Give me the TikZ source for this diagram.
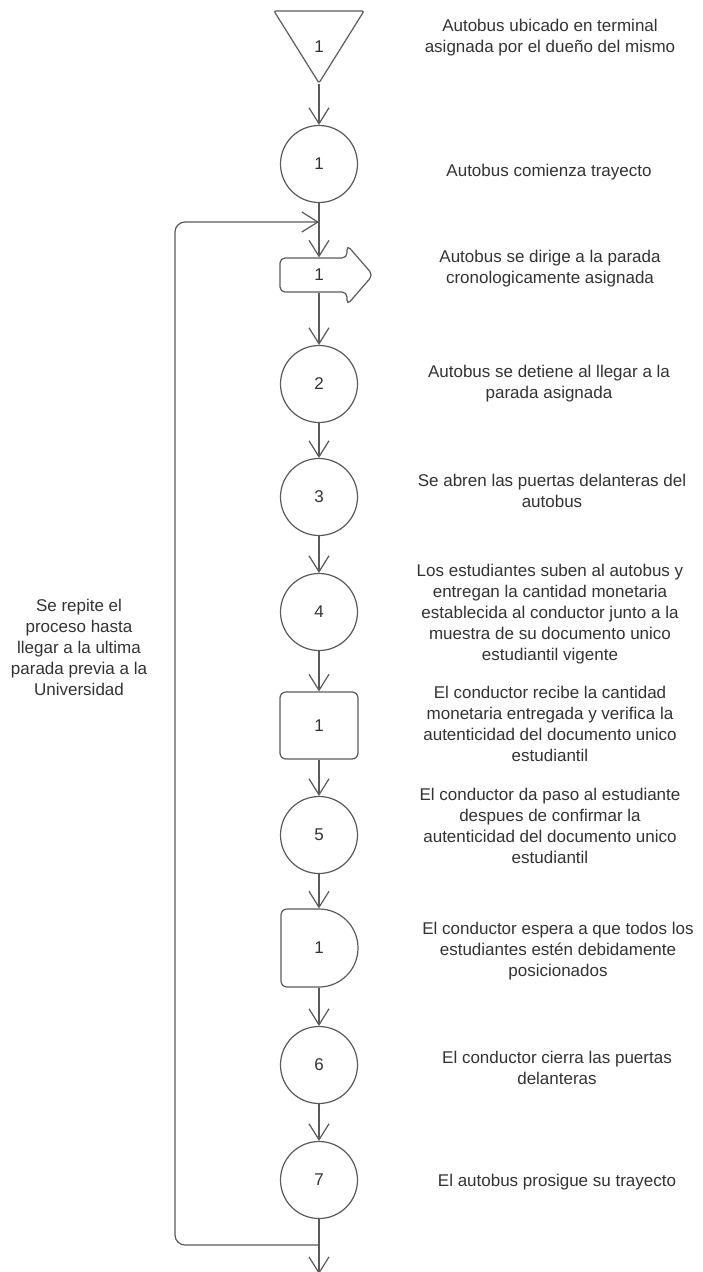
\documentclass[tikz,border=0pt]{standalone}
\usepackage{fontspec}
\setmainfont{Liberation Sans}
\usepackage{tikz}
\usetikzlibrary{arrows.meta}
\usepackage{xcolor}
\definecolor{linea}{HTML}{5A5A5A}
\definecolor{texto}{HTML}{333333}

\begin{document}
\begin{tikzpicture}[x=1pt, y=-1pt, line width=1.2pt, draw=linea, text=texto,
  font=\fontsize{17}{21}\selectfont,
  flecha/.style={-{Straight Barb[length=16pt,width=20pt]}, draw=linea},
  oper/.style={circle, draw=linea, minimum size=77pt, inner sep=0pt},
  insp/.style={draw=linea, rounded corners=6pt, minimum width=78pt, minimum height=67pt},
  hueco/.style={inner sep=0pt},
  desc/.style={align=center}]
\useasboundingbox (0,0) rectangle (702,1272);

% simbolos del diagrama
\draw[rounded corners=2pt] (274,11) -- (364,11) -- (319,83) -- cycle;
\node[hueco, minimum width=90pt, minimum height=72pt] (alm) at (319,47) {1};
\node[oper] (op1) at (319,164) {1};
\draw[rounded corners=5pt] (347,258) -- (280,258) -- (280,292) -- (347,292) -- (347,305) -- (373,275) -- (347,245) -- cycle;
\node[hueco, minimum width=78pt, minimum height=34pt] (trans) at (319,275) {1};
\node[oper] (op2) at (319,384) {2};
\node[oper] (op3) at (319,497) {3};
\node[oper] (op4) at (319,612) {4};
\node[insp] (ins) at (319,725.5) {1};
\node[oper] (op5) at (319,835) {5};
\draw[rounded corners=6pt] (319,909) -- (281,909) -- (281,987) -- (319,987);
\draw (319,987) arc[start angle=90, end angle=-90, radius=39];
\node[hueco, minimum width=78pt, minimum height=78pt] (dem) at (319,948) {1};
\node[oper] (op6) at (319,1065) {6};
\node[oper] (op7) at (319,1180) {7};

\coordinate (entrada) at (319,222);
\coordinate (retorno) at (319,1245);
\coordinate (salida) at (319,1274);

% conectores
\draw[flecha] (alm.south) -- (op1.north);
\draw[flecha] (op1.south) -- (trans.north);
\draw[flecha] (trans.south) -- (op2.north);
\draw[flecha] (op2.south) -- (op3.north);
\draw[flecha] (op3.south) -- (op4.north);
\draw[flecha] (op4.south) -- (ins.north);
\draw[flecha] (ins.south) -- (op5.north);
\draw[flecha] (op5.south) -- (dem.north);
\draw[flecha] (dem.south) -- (op6.north);
\draw[flecha] (op6.south) -- (op7.north);
\draw[flecha] (op7.south) -- (salida);
\draw[flecha, rounded corners=10pt] (retorno) -- (175,1245) -- (175,222) -- (entrada);

% textos
\node[desc] (t0) at (550,38) {Autobus ubicado en terminal\\asignada por el dueño del mismo};
\node[desc] (t1) at (549,172) {Autobus comienza trayecto};
\node[desc] (t2) at (550,269) {Autobus se dirige a la parada\\cronologicamente asignada};
\node[desc] (t3) at (549,384) {Autobus se detiene al llegar a la\\parada asignada};
\node[desc] (t4) at (552,491) {Se abren las puertas delanteras del\\autobus};
\node[desc] (t5) at (550,614) {Los estudiantes suben al autobus y\\entregan la cantidad monetaria\\establecida al conductor junto a la\\muestra de su documento unico\\estudiantil vigente};
\node[desc] (t6) at (550,724) {El conductor recibe la cantidad\\monetaria entregada y verifica la\\autenticidad del documento unico\\estudiantil};
\node[desc] (t7) at (550,826) {El conductor da paso al estudiante\\despues de confirmar la\\autenticidad del documento unico\\estudiantil};
\node[desc] (t8) at (558,951) {El conductor espera a que todos los\\estudiantes estén debidamente\\posicionados};
\node[desc] (t9) at (557,1068) {El conductor cierra las puertas\\delanteras};
\node[desc] (t10) at (557,1182) {El autobus prosigue su trayecto};
\node[desc] (nota) at (79,647) {Se repite el\\proceso hasta\\llegar a la ultima\\parada previa a la\\Universidad};
\end{tikzpicture}
\end{document}
